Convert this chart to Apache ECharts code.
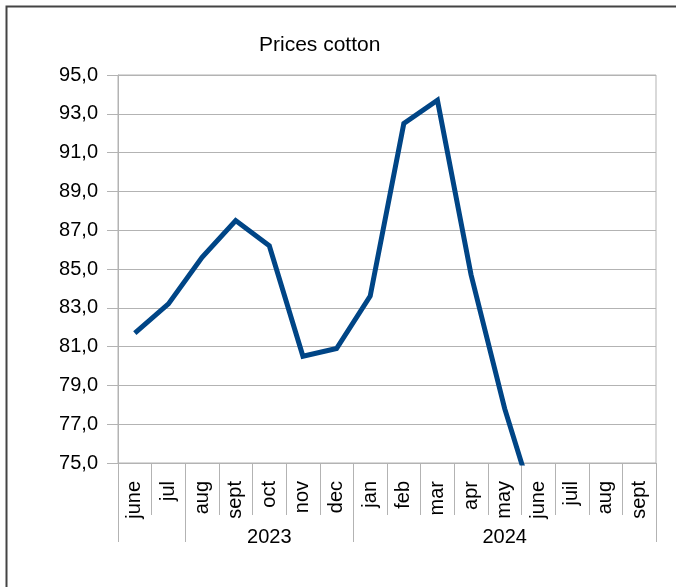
<!DOCTYPE html>
<html>
<head>
<meta charset="utf-8">
<title>Prices cotton</title>
<script src="https://cdn.jsdelivr.net/npm/echarts@6/dist/echarts.min.js"></script>
<style>
  html, body { margin: 0; padding: 0; background: #fff; }
  #chart { width: 676px; height: 587px; }
</style>
</head>
<body>
<div id="chart"></div>
<script>
// months June 2023 .. Sept 2024
var months = ['june', 'jul', 'aug', 'sept', 'oct', 'nov', 'dec',
  'jan', 'feb', 'mar', 'apr', 'may', 'june', 'juil', 'aug', 'sept'];
// second level of the axis (year under its group)
var yearLabels = ['', '', '', '', '2023', '', '', '', '', '', '', '2024', '', '', '', ''];
var yearTickIndex = [0, 2, 7];
// price, june 2024 falls below the 75 floor and gets clipped
var prices = [81.7, 83.2, 85.6, 87.5, 86.2, 80.5, 80.9,
  83.6, 92.5, 93.7, 84.7, 77.8, 72.2, null, null, null];
var yTicks = { min: 75, max: 95, step: 2 };

var gray = '#b3b3b3';
var font = 'Liberation Sans, Arial, sans-serif';

var chart = echarts.init(document.getElementById('chart'));

var option = {
  backgroundColor: '#fff',
  animation: false,
  title: {
    text: 'Prices cotton',
    left: 254,
    top: 30,
    textStyle: { fontFamily: font, fontSize: 21, fontWeight: 'normal', color: '#000' }
  },
  grid: {
    left: 118,
    right: 20,
    top: 75,
    bottom: 124,
    show: true,
    borderColor: gray,
    borderWidth: 1
  },
  xAxis: [{
    type: 'category',
    data: months,
    boundaryGap: true,
    axisLine: { show: true, lineStyle: { color: gray } },
    axisTick: { show: true, interval: 0, length: 52, lineStyle: { color: gray, width: 1 } },
    axisLabel: { interval: 0, rotate: 90, margin: 18, fontFamily: font, fontSize: 20, color: '#000' }
  }, {
    type: 'category',
    data: yearLabels,
    position: 'bottom',
    offset: 52,
    boundaryGap: true,
    axisLine: { show: false },
    axisTick: {
      show: true,
      length: 27,
      interval: function (i) { return yearTickIndex.indexOf(i) >= 0; },
      lineStyle: { color: gray, width: 1 }
    },
    axisLabel: { interval: 0, margin: 12, fontFamily: font, fontSize: 20, color: '#000' }
  }],
  yAxis: {
    type: 'value',
    min: yTicks.min,
    max: yTicks.max,
    interval: yTicks.step,
    axisLine: { show: true, lineStyle: { color: gray } },
    axisTick: { show: true, length: 11, lineStyle: { color: gray } },
    splitLine: { lineStyle: { color: gray } },
    axisLabel: {
      margin: 20,
      fontFamily: font,
      fontSize: 20,
      color: '#000',
      formatter: function (v) { return v.toFixed(1).replace('.', ','); }
    }
  },
  series: [{
    type: 'line',
    name: 'Prices cotton',
    data: prices,
    xAxisIndex: 0,
    showSymbol: false,
    clip: true,
    lineStyle: { color: '#004586', width: 5, join: 'miter', cap: 'butt' },
    itemStyle: { color: '#004586' }
  }],
  graphic: [{
    type: 'polyline',
    silent: true,
    shape: { points: [[6.5, 587], [6.5, 6.5], [676, 6.5]] },
    style: { stroke: '#444', lineWidth: 2, fill: null }
  }]
};

chart.setOption(option);
</script>
</body>
</html>
